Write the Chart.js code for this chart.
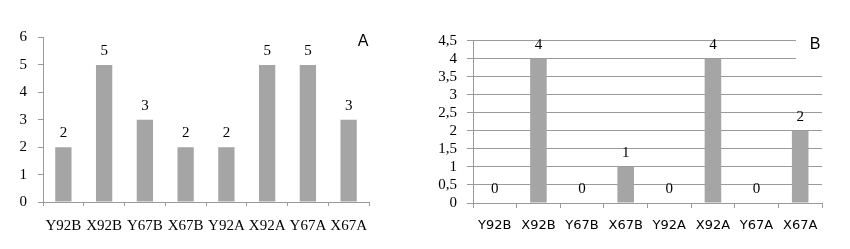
<!DOCTYPE html>
<html>
<head>
<meta charset="utf-8">
<script src="https://cdn.jsdelivr.net/npm/chart.js@4"></script>
<style>
  html, body { margin: 0; padding: 0; background: #fff; }
  #wrap { position: relative; width: 850px; height: 249px; overflow: hidden; }
  .panel { position: absolute; top: 0; height: 249px; }
  #pa { left: 0; width: 410px; }
  #pb { left: 420px; width: 430px; }
</style>
</head>
<body>
<div id="wrap">
  <div class="panel" id="pa"><canvas id="ca"></canvas></div>
  <div class="panel" id="pb"><canvas id="cb"></canvas></div>
</div>
<script>
// Data
const categories = ['Y92B', 'X92B', 'Y67B', 'X67B', 'Y92A', 'X92A', 'Y67A', 'X67A'];
const valuesA = [2, 5, 3, 2, 2, 5, 5, 3];
const valuesB = [0, 4, 0, 1, 0, 4, 0, 2];
const panelLabelA = 'A';
const panelLabelB = 'B';

const BAR = '#a5a5a5';
const AXIS = '#9a9a9a';
const SERIF = '"Liberation Serif", "Times New Roman", serif';
const SANS = '"Liberation Sans", Arial, sans-serif';
const VERDANA = '"DejaVu Sans", Verdana, sans-serif';

function valueLabels(font, offset) {
  return {
    id: 'valueLabels',
    afterDatasetsDraw(chart) {
      const ctx = chart.ctx;
      const meta = chart.getDatasetMeta(0);
      const data = chart.data.datasets[0].data;
      ctx.save();
      ctx.fillStyle = '#000';
      ctx.font = font;
      ctx.textAlign = 'center';
      ctx.textBaseline = 'middle';
      meta.data.forEach((bar, i) => {
        ctx.fillText(String(data[i]), bar.x, bar.y - offset);
      });
      ctx.restore();
    }
  };
}

function panelLetter(text, x, y, box) {
  return {
    id: 'panelLetter',
    afterDraw(chart) {
      const ctx = chart.ctx;
      ctx.save();
      if (box) {
        ctx.fillStyle = '#fff';
        ctx.fillRect(box[0], box[1], box[2], box[3]);
      }
      ctx.fillStyle = '#000';
      ctx.font = '16px ' + SANS;
      ctx.textAlign = 'center';
      ctx.textBaseline = 'middle';
      ctx.fillText(text, x, y);
      ctx.restore();
    }
  };
}

Chart.defaults.animation = false;

// Panel A
new Chart(document.getElementById('ca'), {
  type: 'bar',
  data: {
    labels: categories,
    datasets: [{ data: valuesA, backgroundColor: BAR, borderWidth: 0,
      categoryPercentage: 1.0, barPercentage: 0.4 }]
  },
  options: {
    responsive: true,
    maintainAspectRatio: false,
    animation: false,
    events: [],
    layout: { padding: { left: 0, right: 41, top: 37.5, bottom: 0 } },
    plugins: { legend: { display: false }, tooltip: { enabled: false } },
    scales: {
      x: {
        offset: true,
        grid: { display: true, drawOnChartArea: false, drawTicks: true, tickLength: 4, color: AXIS, offset: true },
        border: { display: true, color: AXIS, width: 1 },
        ticks: { color: '#000', font: { family: SERIF, size: 15 }, padding: 11, maxRotation: 0, autoSkip: false },
        afterFit(s) { s.height = 47; }
      },
      y: {
        min: 0, max: 6,
        grid: { display: true, drawOnChartArea: false, drawTicks: true, tickLength: 5, color: AXIS },
        border: { display: true, color: AXIS, width: 1 },
        ticks: { stepSize: 1, color: '#000', font: { family: SERIF, size: 15 }, padding: 11, autoSkip: false },
        afterFit(s) { s.width = 43; }
      }
    }
  },
  plugins: [valueLabels('15px ' + SERIF, 14), panelLetter(panelLabelA, 363, 42, null)]
});

// Panel B
new Chart(document.getElementById('cb'), {
  type: 'bar',
  data: {
    labels: categories,
    datasets: [{ data: valuesB, backgroundColor: BAR, borderWidth: 0,
      categoryPercentage: 1.0, barPercentage: 0.38 }]
  },
  options: {
    responsive: true,
    maintainAspectRatio: false,
    animation: false,
    events: [],
    layout: { padding: { left: 0, right: 28, top: 40.7, bottom: 0 } },
    plugins: { legend: { display: false }, tooltip: { enabled: false } },
    scales: {
      x: {
        offset: true,
        grid: { display: true, drawOnChartArea: false, drawTicks: true, tickLength: 5, color: AXIS, offset: true },
        border: { display: true, color: AXIS, width: 1 },
        ticks: { color: '#000', font: { family: VERDANA, size: 13 }, padding: 10, maxRotation: 0, autoSkip: false },
        afterFit(s) { s.height = 46; }
      },
      y: {
        min: 0, max: 4.5,
        grid: { display: true, drawOnChartArea: true, drawTicks: true, tickLength: 6, color: AXIS },
        border: { display: true, color: AXIS, width: 1 },
        ticks: { stepSize: 0.5, autoSkip: false, color: '#000', font: { family: SERIF, size: 15, lineHeight: 1 }, padding: 10,
          callback: (v) => String(v).replace('.', ',') },
        afterFit(s) { s.width = 53; }
      }
    }
  },
  plugins: [valueLabels('15px ' + SERIF, 14), panelLetter(panelLabelB, 395, 45, [376, 32, 54, 32])]
});
</script>
</body>
</html>
